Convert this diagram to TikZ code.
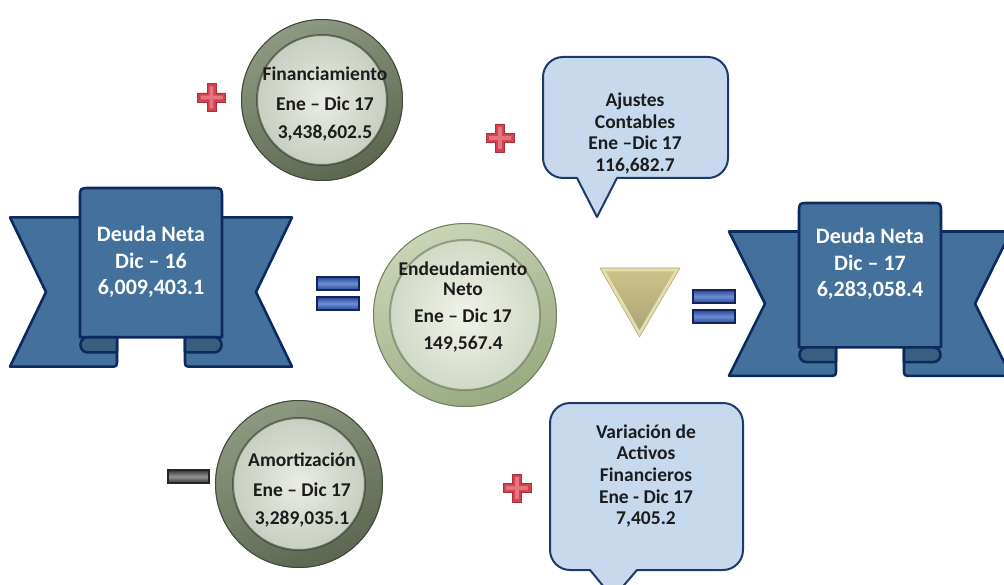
\documentclass[tikz,border=0pt]{standalone}
\usepackage{fontspec}
\setmainfont{Carlito}
\definecolor{ribbonfill}{HTML}{44719B}
\definecolor{ribbondark}{HTML}{385F80}
\definecolor{ribbonline}{HTML}{0D2A5E}
\definecolor{calloutfill}{HTML}{C7DAED}
\definecolor{calloutline}{HTML}{1E3A6C}
\definecolor{ringAlight}{HTML}{8E9982}
\definecolor{ringAdark}{HTML}{5C6650}
\definecolor{ringBlight}{HTML}{CAD5B5}
\definecolor{ringBdark}{HTML}{98A97F}
\definecolor{diskAin}{HTML}{E9ECE5}
\definecolor{diskAout}{HTML}{C8CEC1}
\definecolor{diskBin}{HTML}{F0F3EA}
\definecolor{diskBout}{HTML}{D2D9C6}
\definecolor{textdark}{HTML}{1C1C1C}
\definecolor{plusred}{HTML}{D2434F}
\definecolor{pluslight}{HTML}{EC8C95}
\definecolor{plusline}{HTML}{A8303C}
\definecolor{barnavy}{HTML}{13245A}
\definecolor{barblue}{HTML}{26479A}
\definecolor{barlight}{HTML}{6E8FD2}
\definecolor{trilight}{HTML}{E4DDB0}
\definecolor{trimid}{HTML}{CBC28B}
\definecolor{tridark}{HTML}{B3AA74}
\begin{document}
\begin{tikzpicture}[x=1pt,y=-1pt,
  ribbonpart/.style={fill=ribbonfill, draw=ribbonline, line width=2.6pt, line join=round},
  ribbonfold/.style={fill=ribbondark, draw=ribbonline, line width=2.6pt, line join=round},
  ribbon/.pic={
    % back band, left and right wings with notched ends
    \path[ribbonpart] (-141,29) -- (-34,29) -- (-34,169) .. controls (-34,176) .. (-41,176)
      -- (-141,176) -- (-105,102.5) -- cycle;
    \path[ribbonpart] (141,29) -- (34,29) -- (34,169) .. controls (34,176) .. (41,176)
      -- (141,176) -- (105,102.5) -- cycle;
    % raised front panel
    \path[ribbonpart] (-71,147) -- (-71,10) .. controls (-71,0) .. (-61,0) -- (61,0)
      .. controls (71,0) .. (71,10) -- (71,147) -- cycle;
    % rolled folds under the panel
    \path[ribbonfold] (-34,147) -- (-63,147) .. controls (-73,147) and (-73,162) .. (-63,162)
      -- (-34,162) -- cycle;
    \path[ribbonfold] (34,147) -- (63,147) .. controls (73,147) and (73,162) .. (63,162)
      -- (34,162) -- cycle;
  },
  plussign/.pic={
    \path[fill=plusred, draw=plusline, line width=0.6pt]
      (-4.5,-14) -- (4.5,-14) -- (4.5,-4.5) -- (14,-4.5) -- (14,4.5) -- (4.5,4.5) -- (4.5,14)
      -- (-4.5,14) -- (-4.5,4.5) -- (-14,4.5) -- (-14,-4.5) -- (-4.5,-4.5) -- cycle;
    \path[fill=pluslight, opacity=0.7]
      (-1.8,-11) -- (1.8,-11) -- (1.8,-1.8) -- (11,-1.8) -- (11,1.8) -- (1.8,1.8) -- (1.8,11)
      -- (-1.8,11) -- (-1.8,1.8) -- (-11,1.8) -- (-11,-1.8) -- (-1.8,-1.8) -- cycle;
  },
  eqbar/.style={top color=barblue, bottom color=barblue, middle color=barlight, draw=barnavy, line width=1.4pt},
  ribtxt/.style={font=\bfseries\fontsize{22}{26}\selectfont, text=white, text height=14.2pt, text depth=0pt, inner sep=0pt},
  bodytxt/.style={font=\bfseries\fontsize{19.5}{23}\selectfont, text=textdark, text height=12.6pt, text depth=0pt, inner sep=0pt},
  callout/.style={fill=calloutfill, draw=calloutline, line width=2pt, line join=round},
]
\useasboundingbox (0,0) rectangle (1004,585);
\clip (0,0) rectangle (1004,585);

% ---- ribbons ----
\pic[yscale=1.015] at (151,188) {ribbon};
\pic[yscale=0.982] at (870,203) {ribbon};

\node[ribtxt] (dn16a) at (151,234) {Deuda Neta};
\node[ribtxt] (dn16b) at (151,261) {Dic – 16};
\node[ribtxt] (dn16c) at (151,287) {6,009,403.1};
\node[ribtxt] (dn17a) at (870,236) {Deuda Neta};
\node[ribtxt] (dn17b) at (870,263) {Dic – 17};
\node[ribtxt] (dn17c) at (870,289) {6,283,058.4};

% ---- Financiamiento disc ----
\shade[top color=ringAlight, bottom color=ringAdark, shading angle=25] (322,100) circle[radius=81pt];
\draw[ringAdark!70!black, line width=1pt] (322,100) circle[radius=80.5pt];
\shade[inner color=diskAin, outer color=diskAout] (322,100) circle[radius=65pt];
\draw[ringAdark!55!black, line width=2pt, opacity=0.6] (322,100) circle[radius=65pt];
\node[bodytxt] (fin1) at (325,74) {Financiamiento};
\node[bodytxt] (fin2) at (325,104) {Ene – Dic 17};
\node[bodytxt] (fin3) at (325,132) {3,438,602.5};

% ---- Endeudamiento Neto disc ----
\shade[top color=ringBlight, bottom color=ringBdark, shading angle=25] (465,315) circle[radius=92pt];
\draw[ringBdark!75!black, line width=1pt] (465,315) circle[radius=91.5pt];
\shade[inner color=diskBin, outer color=diskBout] (465,315) circle[radius=75pt];
\draw[ringBdark!60!black, line width=2pt, opacity=0.5] (465,315) circle[radius=75pt];
\node[bodytxt] (end1) at (463,269) {Endeudamiento};
\node[bodytxt] (end2) at (463,289.5) {Neto};
\node[bodytxt] (end3) at (463,316) {Ene – Dic 17};
\node[bodytxt] (end4) at (463,343) {149,567.4};

% ---- Amortizacion disc ----
\shade[top color=ringAlight, bottom color=ringAdark, shading angle=25] (299,484) circle[radius=84pt];
\draw[ringAdark!70!black, line width=1pt] (299,484) circle[radius=83.5pt];
\shade[inner color=diskAin, outer color=diskAout] (299,484) circle[radius=66pt];
\draw[ringAdark!55!black, line width=2pt, opacity=0.6] (299,484) circle[radius=66pt];
\node[bodytxt] (amo1) at (302,460) {Amortización};
\node[bodytxt] (amo2) at (302,490) {Ene – Dic 17};
\node[bodytxt] (amo3) at (302,518) {3,289,035.1};

% ---- callouts ----
\path[callout] (577,178) -- (563,178) .. controls (552,178) and (543,169) .. (543,158)
  -- (543,77) .. controls (543,66) and (552,57) .. (563,57) -- (708,57)
  .. controls (719,57) and (728,66) .. (728,77) -- (728,158)
  .. controls (728,169) and (719,178) .. (708,178) -- (617,178) -- (597,217) -- cycle;
\node[bodytxt] (aj1) at (635,100) {Ajustes};
\node[bodytxt] (aj2) at (635,122) {Contables};
\node[bodytxt] (aj3) at (635,143) {Ene –Dic 17};
\node[bodytxt] (aj4) at (635,165) {116,682.7};

\path[callout] (590,570) -- (570,570) .. controls (559,570) and (550,561) .. (550,550)
  -- (550,423) .. controls (550,412) and (559,403) .. (570,403) -- (723,403)
  .. controls (734,403) and (743,412) .. (743,423) -- (743,550)
  .. controls (743,561) and (734,570) .. (723,570) -- (637,570) -- (613,598) -- cycle;
\node[bodytxt] (va1) at (646,432) {Variación de};
\node[bodytxt] (va2) at (646,453) {Activos};
\node[bodytxt] (va3) at (646,475) {Financieros};
\node[bodytxt] (va4) at (646,497) {Ene - Dic 17};
\node[bodytxt] (va5) at (646,518) {7,405.2};

% ---- operators ----
\pic at (211.5,97.5) {plussign};
\pic at (500,138) {plussign};
\pic at (517,488) {plussign};

\shade[top color=black!80, bottom color=black!80, middle color=black!42, draw=black!85, line width=1.2pt]
  (168,470) rectangle (209,483);

\shade[eqbar] (317,277) rectangle (359,290);
\shade[eqbar] (317,297) rectangle (359,310);
\shade[eqbar] (693,290) rectangle (735,303);
\shade[eqbar] (693,310) rectangle (735,323);

% bevelled down-pointing triangle
\path[fill=trilight, draw=tridark, line width=0.6pt] (600,268) -- (680,268) -- (639.5,337) -- cycle;
\shade[top color=trimid, bottom color=trimid!85!black] (606,271.5) -- (674,271.5) -- (639.5,330) -- cycle;
\end{tikzpicture}
\end{document}
